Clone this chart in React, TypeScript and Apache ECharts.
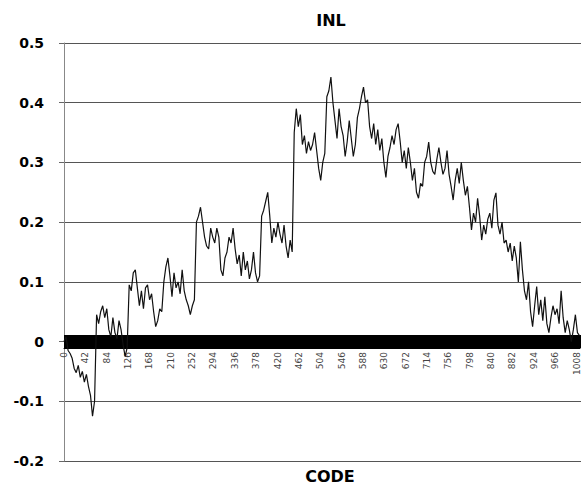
import React, { useEffect, useRef } from "react";
import * as echarts from "echarts";

// INL (integral non-linearity, LSB) sampled every STEP codes, code 0 .. 1012
const STEP = 4;
const inl: number[] = [
  // 0 - 28
  0.000, 0.008, -0.015, -0.020, -0.028, -0.045, -0.052, -0.040,
  // 32 - 60
  -0.060, -0.050, -0.068, -0.055, -0.075, -0.090, -0.125, -0.100,
  // 64 - 92
  0.045, 0.030, 0.050, 0.060, 0.040, 0.055, 0.020, 0.008,
  // 96 - 124
  0.040, 0.015, 0.005, 0.035, 0.020, -0.005, -0.025, -0.010,
  // 128 - 156
  0.095, 0.085, 0.115, 0.120, 0.090, 0.060, 0.085, 0.055,
  // 160 - 188
  0.090, 0.095, 0.070, 0.080, 0.050, 0.025, 0.035, 0.055,
  // 192 - 220
  0.050, 0.100, 0.125, 0.140, 0.110, 0.075, 0.115, 0.090,
  // 224 - 252
  0.100, 0.080, 0.120, 0.085, 0.070, 0.060, 0.045, 0.060,
  // 256 - 284
  0.070, 0.200, 0.210, 0.225, 0.200, 0.175, 0.160, 0.155,
  // 288 - 316
  0.190, 0.175, 0.165, 0.190, 0.175, 0.120, 0.110, 0.140,
  // 320 - 348
  0.150, 0.175, 0.165, 0.190, 0.155, 0.130, 0.145, 0.110,
  // 352 - 380
  0.150, 0.120, 0.135, 0.105, 0.120, 0.150, 0.115, 0.100,
  // 384 - 412
  0.110, 0.210, 0.220, 0.235, 0.250, 0.210, 0.165, 0.190,
  // 416 - 444
  0.175, 0.200, 0.180, 0.165, 0.195, 0.160, 0.140, 0.170,
  // 448 - 476
  0.150, 0.350, 0.390, 0.360, 0.380, 0.330, 0.345, 0.315,
  // 480 - 508
  0.335, 0.320, 0.330, 0.350, 0.320, 0.290, 0.270, 0.300,
  // 512 - 540
  0.315, 0.410, 0.420, 0.443, 0.400, 0.370, 0.340, 0.390,
  // 544 - 572
  0.360, 0.345, 0.310, 0.335, 0.370, 0.340, 0.310, 0.330,
  // 576 - 604
  0.375, 0.390, 0.410, 0.426, 0.400, 0.405, 0.360, 0.340,
  // 608 - 636
  0.365, 0.330, 0.355, 0.320, 0.340, 0.300, 0.275, 0.310,
  // 640 - 668
  0.325, 0.345, 0.330, 0.355, 0.365, 0.335, 0.300, 0.320,
  // 672 - 700
  0.290, 0.325, 0.300, 0.270, 0.290, 0.250, 0.240, 0.265,
  // 704 - 732
  0.260, 0.300, 0.310, 0.334, 0.300, 0.285, 0.280, 0.305,
  // 736 - 764
  0.325, 0.300, 0.280, 0.290, 0.320, 0.280, 0.260, 0.237,
  // 768 - 796
  0.270, 0.290, 0.265, 0.300, 0.270, 0.245, 0.260, 0.225,
  // 800 - 828
  0.187, 0.215, 0.200, 0.240, 0.210, 0.170, 0.195, 0.180,
  // 832 - 860
  0.205, 0.215, 0.190, 0.237, 0.249, 0.195, 0.180, 0.200,
  // 864 - 892
  0.165, 0.170, 0.150, 0.165, 0.135, 0.160, 0.140, 0.100,
  // 896 - 924
  0.167, 0.120, 0.085, 0.070, 0.100, 0.050, 0.025, 0.060,
  // 928 - 956
  0.092, 0.045, 0.070, 0.035, 0.075, 0.030, 0.015, 0.040,
  // 960 - 988
  0.060, 0.045, 0.055, 0.030, 0.085, 0.040, 0.015, 0.035,
  // 992 - 1012
  0.020, 0.000, 0.020, 0.045, 0.015, 0.010,
];

const CODE_MIN = 0;
const CODE_MAX = 1015;
const CODE_LABEL_STEP = 42;
const INL_MIN = -0.2;
const INL_MAX = 0.5;
const INL_STEP = 0.1;

const TITLE = "INL";
const X_NAME = "CODE";

const W = 581;
const H = 489;
const PLOT_LEFT = 64;
const PLOT_TOP = 43;
const PLOT_BOTTOM = 461;
// tick strip around the zero line (one tick per code)
const STRIP_TOP = 335;
const STRIP_H = 13;

const BOLD_FONT = "DejaVu Sans, Verdana, sans-serif";

export default function App() {
  const ref = useRef<HTMLDivElement>(null);

  useEffect(() => {
    if (!ref.current) return;
    const chart = echarts.init(ref.current, null, { renderer: "svg" });

    const points = inl.map((v, i) => [i * STEP, v]);

    chart.setOption({
      animation: false,
      backgroundColor: "#fff",
      grid: [
        { left: PLOT_LEFT, right: 0, top: PLOT_TOP, bottom: H - PLOT_BOTTOM },
        { left: PLOT_LEFT, right: 0, top: STRIP_TOP, height: STRIP_H },
      ],
      xAxis: [
        {
          gridIndex: 0,
          type: "value",
          min: CODE_MIN,
          max: CODE_MAX,
          show: false,
        },
        {
          gridIndex: 1,
          type: "value",
          min: CODE_MIN,
          max: CODE_MAX,
          interval: CODE_LABEL_STEP,
          position: "bottom",
          splitLine: { show: false },
          axisLine: { show: true, onZero: false, lineStyle: { color: "#000", width: 1 } },
          axisTick: {
            show: true,
            inside: true,
            length: STRIP_H,
            lineStyle: { color: "#000", width: 1 },
          },
          minorTick: {
            show: true,
            splitNumber: CODE_LABEL_STEP,
            length: STRIP_H,
            lineStyle: { color: "#000", width: 1 },
          },
          axisLabel: {
            show: true,
            inside: false,
            rotate: 90,
            margin: 4,
            fontSize: 9,
            color: "#444",
            fontFamily: "DejaVu Sans, sans-serif",
            showMaxLabel: false,
            formatter: (v: number) => String(v),
          },
        },
      ],
      yAxis: [
        {
          gridIndex: 0,
          type: "value",
          min: INL_MIN,
          max: INL_MAX,
          interval: INL_STEP,
          axisLine: { show: true, onZero: false, lineStyle: { color: "#888", width: 1 } },
          axisTick: { show: true, length: 5, lineStyle: { color: "#666" } },
          splitLine: { show: true, lineStyle: { color: "#555", width: 1 } },
          axisLabel: {
            margin: 20,
            fontSize: 14,
            fontWeight: "bold",
            color: "#000",
            fontFamily: BOLD_FONT,
            formatter: (v: number) => String(Math.round(v * 10) / 10),
          },
        },
        {
          gridIndex: 1,
          type: "value",
          min: 0,
          max: 1,
          show: false,
        },
      ],
      graphic: [
        {
          type: "text",
          x: 331,
          y: 12,
          style: {
            text: TITLE,
            fontSize: 16,
            fontWeight: "bold",
            fontFamily: BOLD_FONT,
            fill: "#000",
            textAlign: "center",
            textVerticalAlign: "top",
          },
        },
        {
          type: "text",
          x: 330,
          y: 468,
          style: {
            text: X_NAME,
            fontSize: 16,
            fontWeight: "bold",
            fontFamily: BOLD_FONT,
            fill: "#000",
            textAlign: "center",
            textVerticalAlign: "top",
          },
        },
      ],
      series: [
        {
          type: "line",
          data: points,
          xAxisIndex: 0,
          yAxisIndex: 0,
          showSymbol: false,
          symbol: "none",
          lineStyle: { color: "#111", width: 1.2 },
          z: 3,
        },
      ],
    });

    return () => chart.dispose();
  }, []);

  return (
    <div
      ref={ref}
      style={{ position: "absolute", left: 0, top: 0, width: W, height: H, background: "#fff" }}
    />
  );
}
